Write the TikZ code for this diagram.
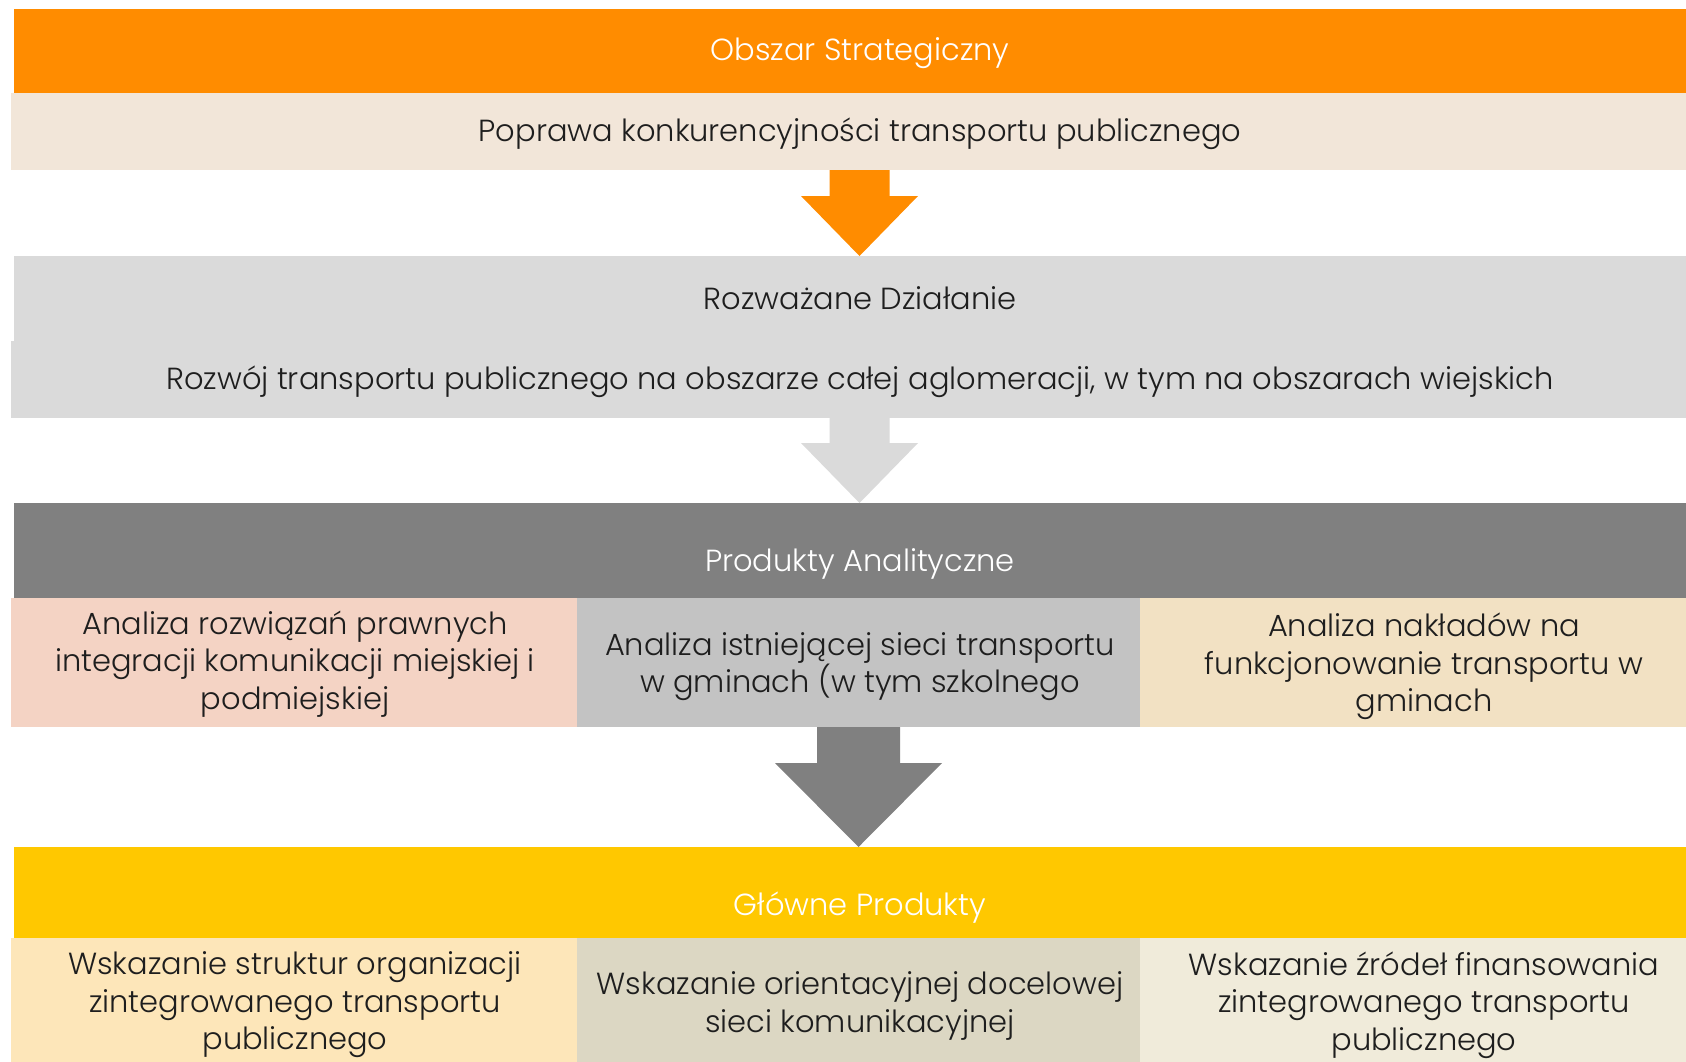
\documentclass[tikz,border=0pt]{standalone}
\usepackage{fontspec}
\setmainfont{Poppins}[UprightFont=* Light]
\usetikzlibrary{calc}
\definecolor{cOrange}{RGB}{255,140,0}
\definecolor{cBeige}{RGB}{242,230,217}
\definecolor{cLGrey}{RGB}{218,218,218}
\definecolor{cDGrey}{RGB}{128,128,128}
\definecolor{cSalmon}{RGB}{244,211,196}
\definecolor{cMGrey}{RGB}{195,195,195}
\definecolor{cSand}{RGB}{242,225,195}
\definecolor{cYellow}{RGB}{255,200,0}
\definecolor{cCream}{RGB}{253,230,185}
\definecolor{cKhaki}{RGB}{220,215,195}
\definecolor{cIvory}{RGB}{240,235,218}
\definecolor{cText}{RGB}{30,30,30}
\newcommand\blockarrow[6]{%
  \fill[#6] ($(#1.south)+(-#3,0)$) -- ($(#1.south)+(#3,0)$) -- ($(#1.south)+(#3,#4)$)
    -- ($(#1.south)+(#5,#4)$) -- (#1.south |- #2.north) -- ($(#1.south)+(-#5,#4)$)
    -- ($(#1.south)+(-#3,#4)$) -- cycle;}
\begin{document}
\begin{tikzpicture}[x=1pt,y=-1pt,
  band/.style={draw=none, inner sep=0pt, outer sep=0pt, anchor=north west},
  txt/.style={font=\fontsize{30.5}{37.6}\selectfont, align=center, text=cText, inner sep=0pt},
  wtxt/.style={txt, text=white}]
\useasboundingbox[fill=white] (0,0) rectangle (1686,1062);
% bands
\node[band, fill=cOrange, minimum width=1694pt, minimum height=84pt] (obszar) at (14,9) {};
\node[band, fill=cBeige, minimum width=1697pt, minimum height=77pt] (poprawa) at (11,93) {};
\node[band, fill=cLGrey, minimum width=1694pt, minimum height=85pt] (rozwazane) at (14,256) {};
\node[band, fill=cLGrey, minimum width=1697pt, minimum height=77pt] (rozwoj) at (11,341) {};
\node[band, fill=cDGrey, minimum width=1694pt, minimum height=95pt] (produkty) at (14,503) {};
\node[band, fill=cSalmon, minimum width=566pt, minimum height=129pt] (a1) at (11,598) {};
\node[band, fill=cMGrey, minimum width=563pt, minimum height=129pt] (a2) at (577,598) {};
\node[band, fill=cSand, minimum width=568pt, minimum height=129pt] (a3) at (1140,598) {};
\node[band, fill=cYellow, minimum width=1694pt, minimum height=91pt] (glowne) at (14,847) {};
\node[band, fill=cCream, minimum width=566pt, minimum height=130pt] (g1) at (11,938) {};
\node[band, fill=cKhaki, minimum width=563pt, minimum height=130pt] (g2) at (577,938) {};
\node[band, fill=cIvory, minimum width=568pt, minimum height=130pt] (g3) at (1140,938) {};
% arrows
\blockarrow{poprawa}{rozwazane}{30}{26}{58.5}{cOrange}
\blockarrow{rozwoj}{produkty}{30}{25}{58.5}{cLGrey}
\blockarrow{a2}{glowne}{41.5}{36}{83.5}{cDGrey}
% texts
\node[wtxt] (t0) at (860,53.5) {Obszar Strategiczny};
\node[txt] (t1) at (860,134) {Poprawa konkurencyjności transportu publicznego};
\node[txt] (t2) at (860,298.5) {Rozważane Działanie};
\node[txt] (t3) at (860,381.5) {Rozwój transportu publicznego na obszarze całej aglomeracji, w tym na obszarach wiejskich};
\node[wtxt] (t4) at (860,564) {Produkty Analityczne};
\node[txt] (t5) at (295,664) {Analiza rozwiązań prawnych\\integracji komunikacji miejskiej i\\podmiejskiej};
\node[txt] (t6) at (860,666.5) {Analiza istniejącej sieci transportu\\w gminach (w tym szkolnego};
\node[txt] (t7) at (1424,666.5) {Analiza nakładów na\\funkcjonowanie transportu w\\gminach};
\node[wtxt] (t8) at (860,908) {Główne Produkty};
\node[txt] (t9) at (295,1005) {Wskazanie struktur organizacji\\zintegrowanego transportu\\publicznego};
\node[txt] (t10) at (860,1006) {Wskazanie orientacyjnej docelowej\\sieci komunikacyjnej};
\node[txt] (t11) at (1424,1005) {Wskazanie źródeł finansowania\\zintegrowanego transportu\\publicznego};
\end{tikzpicture}
\end{document}
